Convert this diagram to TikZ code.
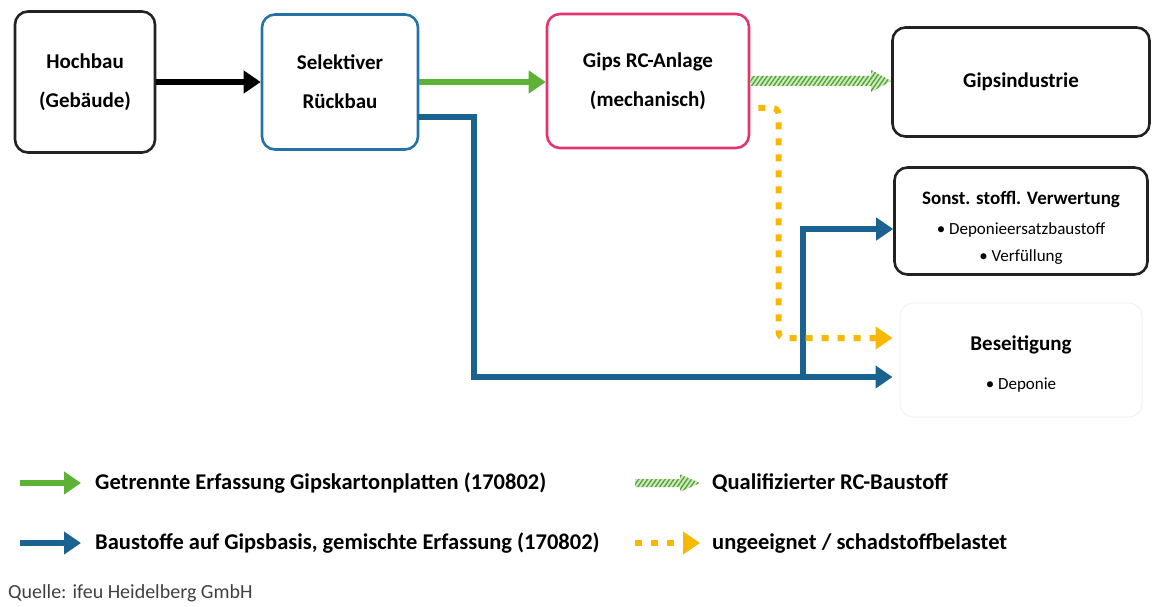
\documentclass[tikz,border=0pt]{standalone}
\usepackage{fontspec}
\setmainfont{Carlito}
\usetikzlibrary{arrows.meta,calc,patterns.meta}

\definecolor{cgreen}{HTML}{5DB135}
\definecolor{cblue}{HTML}{1A6391}
\definecolor{crueck}{HTML}{2473A6}
\definecolor{cpink}{HTML}{E3346F}
\definecolor{cyellow}{HTML}{F6B800}
\definecolor{chatch}{HTML}{5FB83A}
\definecolor{cbox}{HTML}{222222}

\newcommand{\boxfont}{\bfseries\fontsize{21}{39}\selectfont}
\newcommand{\subtitle}{\fontsize{19}{39}\selectfont}
\newcommand{\subtxt}{\normalfont\fontsize{17}{27}\selectfont}
\newcommand{\hatcharrow}[3]{%
  \path[hatch] let \p1=(#1), \p2=(#2) in
    (\x1,\y1-#3) -- (\x2-20pt,\y1-#3) -- (\x2-20pt,\y1-2.2*#3) -- (\x2,\y1) --
    (\x2-20pt,\y1+2.2*#3) -- (\x2-20pt,\y1+#3) -- (\x1,\y1+#3) -- cycle;}

\begin{document}
\begin{tikzpicture}[x=1pt,y=-1pt,
  box/.style={draw=cbox,rounded corners=13pt,line width=2.6pt,align=center,inner sep=0pt,font=\boxfont},
  flow/.style={line width=6pt,-{Triangle[length=17pt,width=22pt]}},
  greenflow/.style={flow,draw=cgreen},
  blueflow/.style={flow,draw=cblue},
  dotflow/.style={flow,draw=cyellow,dash pattern=on 7pt off 9pt},
  hatch/.style={fill=chatch!30,postaction={pattern={Lines[angle=55,distance=3.6pt,line width=1.4pt]},pattern color=chatch!90!black}},
  legtxt/.style={anchor=west,inner sep=0pt,font=\bfseries\fontsize{22.5}{26}\selectfont}]
  \useasboundingbox (0,0) rectangle (1172,607);

  \node[box,minimum width=140pt,minimum height=141pt] (hoch) at (85,82) {Hochbau\\(Gebäude)};
  \node[box,draw=crueck,minimum width=156pt,minimum height=135pt] (rueck) at (340,82) {Selektiver\\Rückbau};
  \node[box,draw=cpink,minimum width=202pt,minimum height=134pt] (rc) at (648,81) {Gips RC-Anlage\\(mechanisch)};
  \node[box,minimum width=257pt,minimum height=109pt] (gind) at (1021,82) {Gipsindustrie};
  \node[box,minimum width=253pt,minimum height=107pt] (sonst) at (1021,221)
    {\subtitle\rule{0pt}{26pt}Sonst. stoffl. Verwertung\\[-9pt]\subtxt • Deponieersatzbaustoff\\[-12pt]\subtxt • Verfüllung};
  \node[box,draw=black!5,line width=1pt,minimum width=242pt,minimum height=114pt] (beseit) at (1021,360)
    {\rule{0pt}{23pt}Beseitigung\\\subtxt • Deponie};

  \draw[flow,draw=black] (hoch) -- (rueck);
  \draw[greenflow] (rueck.east |- 0,82) -- (rc.west |- 0,82);
  \hatcharrow{rc.east}{gind.west}{5pt}

  \coordinate (split) at (803,377);
  \draw[blueflow,shorten >=7pt] ($(rueck.east)+(-1,35)$) -- ++(56,0) |- ($(beseit.west)+(0,17)$);
  \draw[blueflow] (split) |- ($(sonst.west)+(0,8)$);
  \draw[dotflow,rounded corners=6pt,shorten >=7pt] ($(rc.east)+(8,27)$) -| ($(beseit.west)+(-121,-22)$) -- ($(beseit.west)+(0,-22)$);

  \node[legtxt] (lgreen) at (95,483) {Getrennte Erfassung Gipskartonplatten (170802)};
  \node[legtxt] (lblue) at (95,543) {Baustoffe auf Gipsbasis, gemischte Erfassung (170802)};
  \node[legtxt] (lhatch) at (712,483) {Qualifizierter RC-Baustoff};
  \node[legtxt] (ldot) at (712,543) {ungeeignet / schadstoffbelastet};
  \node[anchor=west,inner sep=0pt,font=\fontsize{20}{22}\selectfont,text=black!75] (quelle) at (8,593) {Quelle: ifeu Heidelberg GmbH};

  \coordinate (lgreen0) at (20,483);
  \coordinate (lblue0) at (20,543);
  \coordinate (lhatch0) at (635,483);
  \coordinate (ldot0) at (635,543);
  \draw[greenflow] (lgreen0) -- ($(lgreen.west)+(-14,0)$);
  \draw[blueflow] (lblue0) -- ($(lblue.west)+(-14,0)$);
  \hatcharrow{lhatch0}{$(lhatch.west)+(-12,0)$}{4pt}
  \draw[dotflow] (ldot0) -- ($(ldot.west)+(-12,0)$);
\end{tikzpicture}
\end{document}
